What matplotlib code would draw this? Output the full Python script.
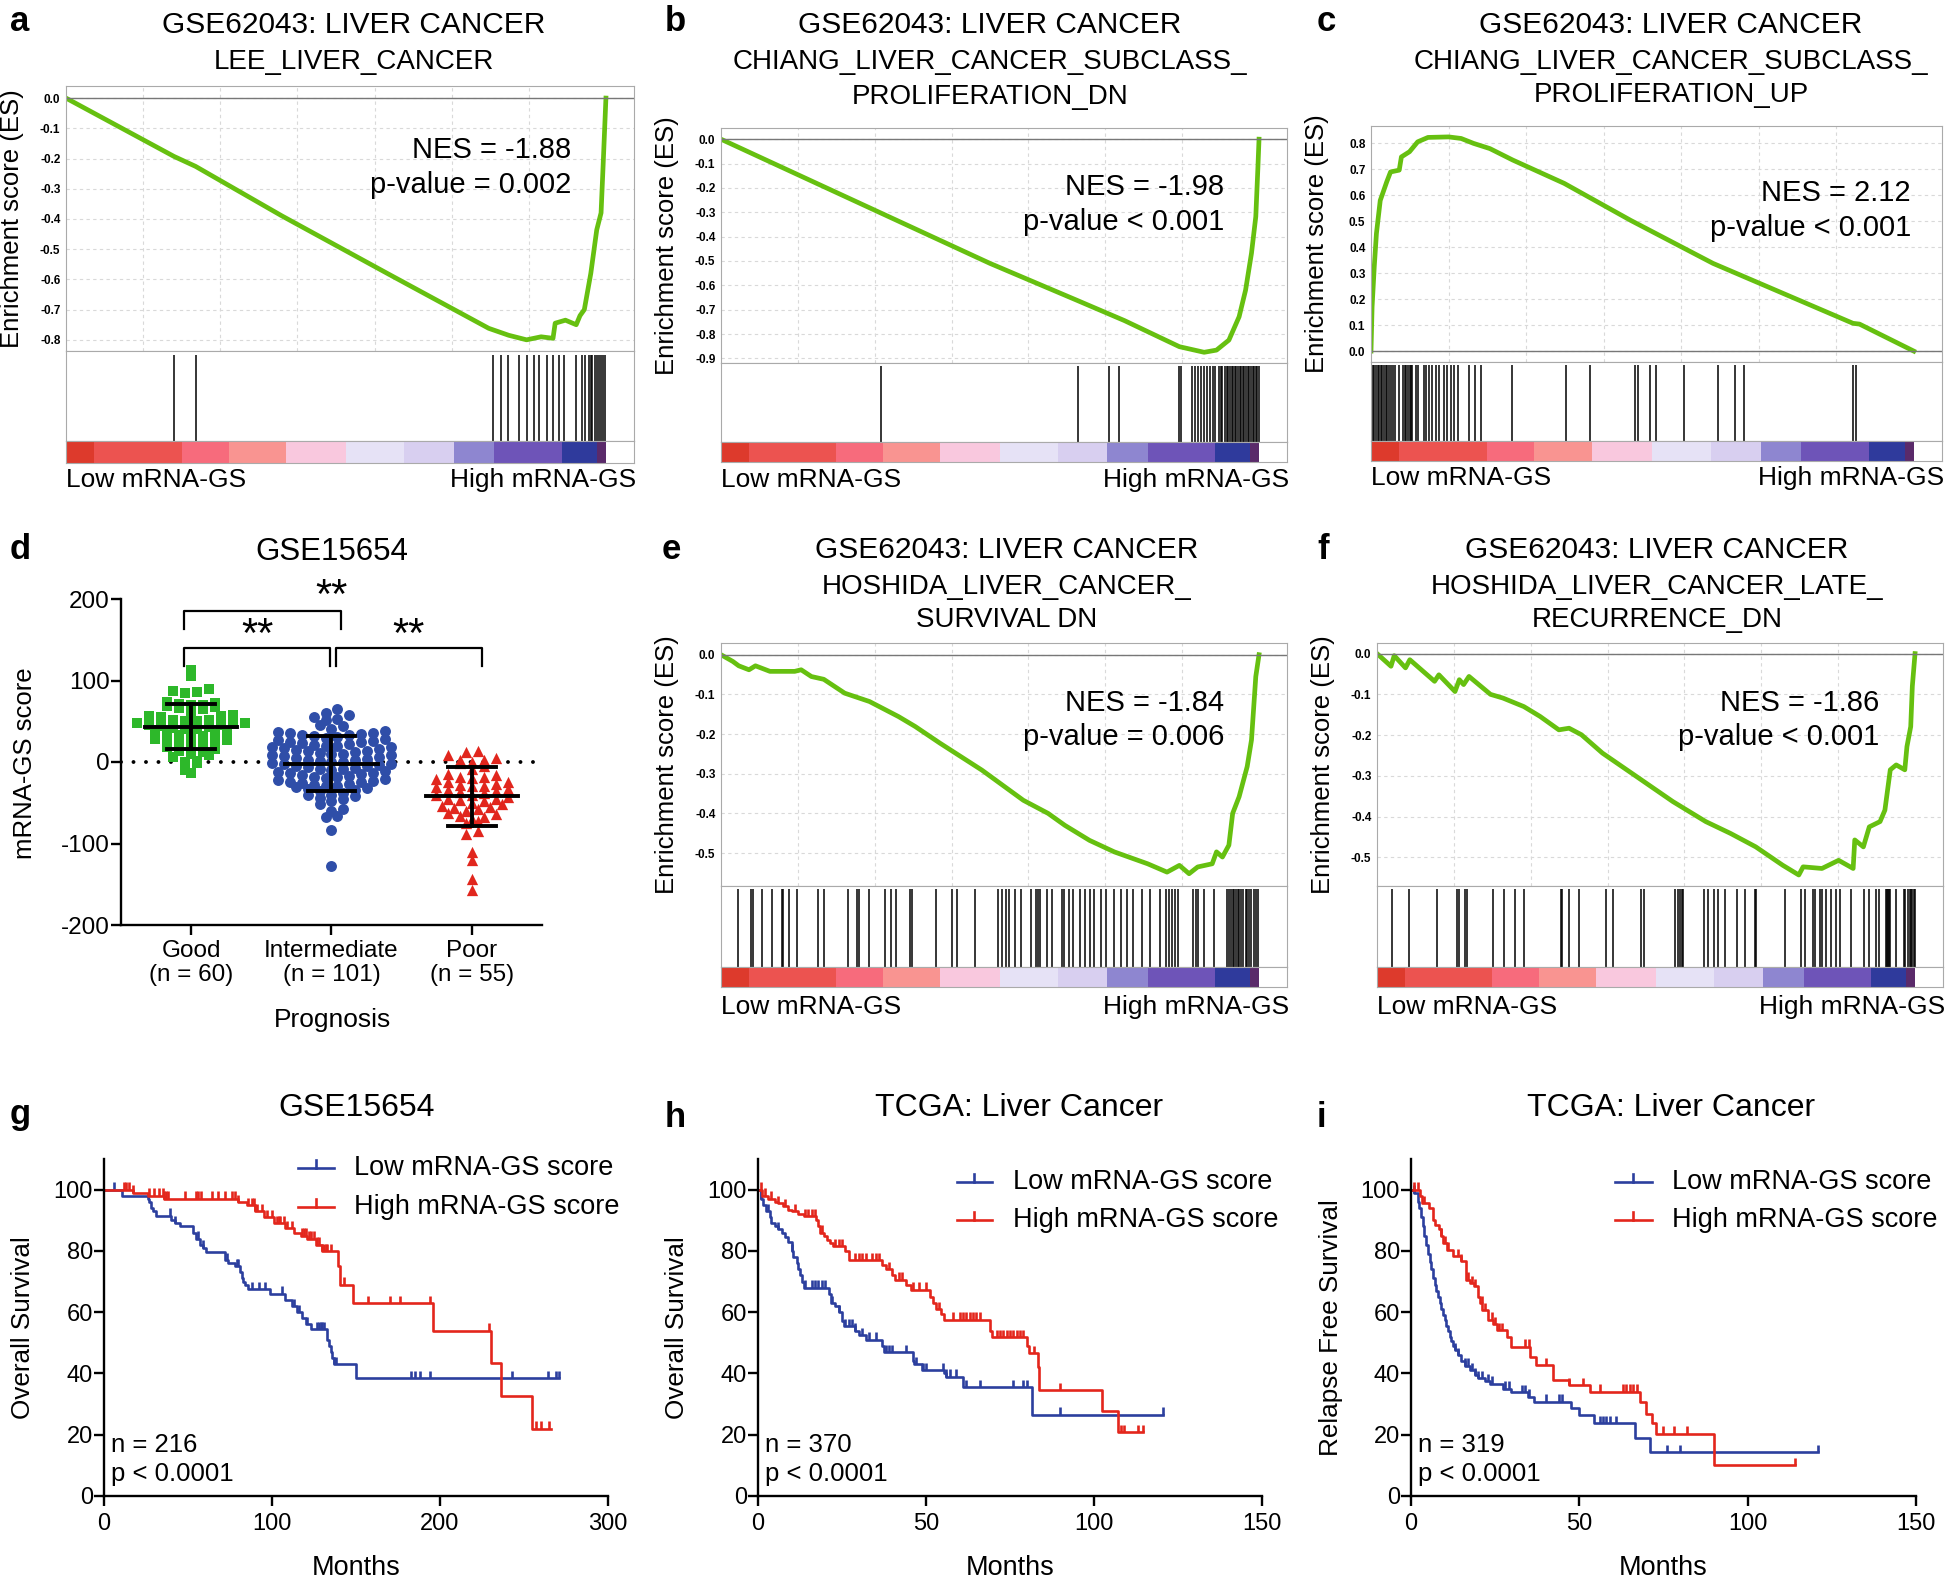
import numpy as np
import matplotlib
matplotlib.use('Agg')
import matplotlib.pyplot as plt
from matplotlib.lines import Line2D

plt.rcParams['font.family'] = ['Liberation Sans', 'DejaVu Sans']
plt.rcParams['axes.unicode_minus'] = False

# ---------------- GSEA data (x = position in ranked gene list, %) ----------------
a_x = [0, 20.0, 24.0, 40, 60, 78.3, 82, 85.3, 88, 90.2, 90.6, 92.5, 94.5, 95.2, 96.0, 97.2, 98.3, 99.1, 99.5, 100]
a_es = [0, -0.193, -0.226, -0.39, -0.585, -0.762, -0.785, -0.80, -0.79, -0.795, -0.745, -0.735, -0.75, -0.72, -0.70, -0.58, -0.436, -0.38, -0.215, 0]
a_hits = [20.0, 24.0, 79.0, 80.6, 81.8, 83.9, 85.4, 86.6, 87.6, 89.1, 90.2, 91.4, 92.3, 94.5, 95.6, 96.2, 96.8,
          97.2, 97.5, 97.9, 98.3, 98.7, 99.1, 99.5, 99.8]

b_x = [0, 29.8, 50, 66.0, 75, 85.2, 89.8, 92.1, 94.4, 96.3, 97.5, 98.6, 99.4, 99.8, 100]
b_es = [0, -0.304, -0.51, -0.66, -0.745, -0.852, -0.875, -0.866, -0.825, -0.729, -0.62, -0.468, -0.318, -0.112, 0]
b_hits = [29.8, 66.3, 72.1, 74.0, 85.2, 85.5, 87.6, 88.1, 88.6, 89.2, 89.8, 90.4, 90.9, 91.5, 91.9, 92.5, 92.9,
          93.2, 93.6, 94.0, 94.3, 94.6, 94.9, 95.2, 95.5, 95.8, 96.1, 96.4, 96.7, 97.0, 97.3, 97.6, 97.9, 98.2,
          98.5, 98.8, 99.1, 99.4, 99.7, 100.0]

c_x = [0, 0.2, 0.6, 1.0, 1.7, 2.9, 3.6, 5.2, 5.6, 7.1, 8.6, 10.5, 14.3, 16.6, 18.9, 21.9, 26.1, 35.6, 47.8, 63.0, 88.8, 90.0, 100]
c_es = [0, 0.17, 0.325, 0.453, 0.58, 0.652, 0.69, 0.697, 0.748, 0.768, 0.806, 0.823, 0.825, 0.819, 0.80, 0.78, 0.736,
        0.646, 0.504, 0.338, 0.107, 0.104, 0]
c_hits = [0.0, 0.3, 0.6, 0.9, 1.2, 1.5, 1.8, 2.1, 2.4, 2.7, 3.0, 3.3, 3.6, 4.0, 4.5, 5.2, 5.9, 6.2, 6.5, 6.8, 7.1,
          7.4, 7.6, 8.2, 8.7, 9.7, 10.1, 10.6, 11.3, 12.0, 12.6, 13.4, 14.0, 14.8, 15.2, 16.0, 18.1, 19.2, 20.2,
          25.9, 36.0, 40.4, 48.7, 49.2, 51.4, 52.5, 57.6, 63.9, 67.1, 68.8, 88.8, 89.4]

e_x = [0, 2.2, 3.3, 5.2, 6.4, 9.1, 13.7, 14.9, 16.8, 19.1, 23.0, 27.6, 33.0, 36.1, 40.7, 48.5, 56.2, 60.8, 63.9,
       68.5, 73.1, 79.3, 82.9, 85.2, 87.0, 88.6, 91.3, 92.1, 93.2, 94.4, 95.1, 96.3, 97.8, 98.6, 99.4, 100]
e_es = [0, -0.017, -0.028, -0.038, -0.028, -0.042, -0.042, -0.038, -0.055, -0.062, -0.097, -0.118, -0.156, -0.181,
        -0.223, -0.291, -0.367, -0.40, -0.43, -0.468, -0.497, -0.527, -0.548, -0.531, -0.552, -0.535, -0.527,
        -0.497, -0.51, -0.48, -0.40, -0.358, -0.282, -0.215, -0.055, 0]
e_hits = [3.2, 5.6, 6.0, 7.7, 9.5, 11.3, 11.6, 12.6, 14.1, 18.0, 19.1, 23.6, 25.3, 25.7, 27.5, 30.5, 31.6, 32.6,
          35.2, 35.5, 40.0, 42.9, 43.8, 47.3, 51.4, 52.3, 52.9, 53.5, 54.6, 55.8, 57.7, 58.5, 58.9, 59.3, 60.6,
          61.6, 63.3, 63.7, 64.7, 65.4, 66.8, 67.7, 68.5, 69.4, 70.7, 71.6, 73.1, 74.3, 75.5, 76.6, 78.2, 79.7,
          81.6, 82.8, 83.2, 83.8, 84.3, 84.9, 87.8, 88.2, 88.7, 89.7, 91.7, 94.0, 94.4, 94.8, 95.1, 95.4, 95.7,
          96.0, 96.3, 96.7, 97.1, 97.5, 97.8, 98.2, 98.6, 99.0, 99.4, 99.8]

f_x = [0, 2.6, 3.2, 5.3, 6.1, 10.7, 11.5, 14.5, 15.3, 16.1, 17.1, 21.1, 23.4, 27.3, 30.3, 33.8, 35.7, 38.0, 41.9,
       47.3, 55.0, 61.1, 65.7, 70.4, 75.4, 78.4, 79.2, 82.7, 85.8, 88.5, 88.8, 90.4, 91.5, 93.5, 94.4, 95.4, 96.5,
       98.1, 98.5, 99.2, 99.5, 100]
f_es = [0, -0.031, -0.005, -0.035, -0.015, -0.068, -0.052, -0.093, -0.064, -0.076, -0.056, -0.10, -0.109, -0.13,
        -0.154, -0.187, -0.183, -0.199, -0.244, -0.293, -0.363, -0.412, -0.441, -0.474, -0.519, -0.543, -0.523,
        -0.527, -0.507, -0.527, -0.457, -0.474, -0.425, -0.412, -0.384, -0.285, -0.273, -0.285, -0.228, -0.179,
        -0.08, 0]
f_hits = [2.8, 5.9, 11.1, 14.9, 15.2, 16.3, 16.7, 21.5, 23.6, 25.7, 27.3, 34.2, 34.3, 35.6, 37.5, 42.6, 43.8, 49.0,
          49.7, 55.3, 55.9, 56.4, 56.7, 56.9, 60.7, 61.5, 62.7, 63.4, 64.6, 66.9, 68.4, 70.2, 70.4, 75.9, 78.8,
          79.6, 81.0, 81.5, 82.3, 82.8, 83.4, 84.4, 85.4, 86.1, 88.1, 90.5, 91.5, 92.7, 93.3, 94.6, 94.8, 95.0,
          95.1, 95.4, 96.4, 97.9, 98.2, 98.7, 99.0, 99.2, 99.5, 99.8, 100.0]

# ranked list colour bar
bar_edges = [0, 5.2, 21.4, 30.1, 40.7, 51.8, 62.6, 71.8, 79.3, 91.8, 98.3, 100]
bar_colors = ['#dd3a2c', '#ec5350', '#f76b7c', '#f99491', '#f9c8de', '#e6e2f6', '#d8cff0',
              '#8e86d0', '#6e54b8', '#2f3a9c', '#5a2a6a']

# ---------------- scatter (panel d) ----------------
good = [113, 105, 89, 87, 86, 85, 74, 72, 70, 69, 71, 70, 68, 66, 65, 60, 58, 57, 56, 55,
        52, 51, 50, 48, 47, 50, 48, 46, 45, 44, 43, 42, 41, 40, 39, 37, 35, 34, 33, 32,
        30, 28, 27, 26, 25, 23, 22, 20, 18, 16, 14, 12, 10, 8, 6, 1, 0, -1, -10, -14]
inter = [65, 60, 58, 55, 53, 52, 45, 44, 40,
         38, 37, 36, 35, 34, 33, 33, 32, 31, 30, 28,
         27, 26, 25, 24, 23, 22, 21, 20, 20, 19, 18, 17, 16, 15, 14,
         13, 12, 11, 10, 10, 9, 8, 7, 6, 5, 4, 3,
         2, 1, 0, 0, -1, -2, -3, -4, -5, -5, -6, -7, -8, -9,
         -10, -11, -12, -13, -14, -15, -16, -17, -18,
         -19, -20, -21, -22, -23, -24, -25, -26, -27, -28,
         -29, -30, -31, -32, -33, -34, -35,
         -38, -40, -41, -42, -44, -46, -48,
         -52, -58, -60, -66, -68, -83, -128]
poor = [13, 12, 8, 5, 3, 2, 0, -1, -5, -8,
        -15, -16, -18, -19, -20, -21, -24, -25,
        -27, -28, -30, -31, -33, -34, -35, -37,
        -38, -40, -41, -43, -45, -46, -47, -48, -50,
        -52, -54, -55, -57, -58, -60, -62,
        -64, -66, -68, -70, -72, -75,
        -85, -88, -110, -120, -143, -157, -30]
groups = ['Good\n(n = 60)', 'Intermediate\n(n = 101)', 'Poor\n(n = 55)']

# ---------------- Kaplan-Meier step data ----------------
g_low_t = [0, 11, 26, 27, 28, 29, 31, 40, 42, 45, 53, 55, 57, 59, 61, 72, 74, 78, 81, 82, 83, 84, 86, 99, 108,
           112, 115, 118, 120, 123, 133, 134, 135, 136, 137, 150]
g_low_s = [100, 98, 97, 96, 94, 93, 91.5, 90, 89, 88, 86, 84, 82, 81, 79.5, 77, 76, 75, 73, 71, 70, 69, 67.5, 66,
           64, 62, 60, 58, 56, 54.5, 51, 49, 47, 45, 43, 38.5]
g_low_cens = [6, 39, 42, 56, 59, 73, 79, 80, 88, 92, 96, 106, 113, 116, 121, 127, 128, 129, 130, 131, 137, 138,
              183, 185, 188, 194, 243, 264, 269, 271]
g_low_end = 271
g_high_t = [0, 17, 26, 36, 80, 85, 90, 95, 101, 108, 113, 117, 121, 126, 130, 139, 140.5, 148, 196, 230.5, 236.6,
            254.6]
g_high_s = [100, 99, 98, 97, 96, 95, 93, 91, 89, 87.5, 86, 85, 84, 82, 80, 75, 69, 63, 54, 43.5, 32.5, 22]
g_high_cens = [12, 13, 15, 17, 27, 30, 33, 35, 36, 37, 38, 48, 55, 56, 58, 64, 68, 72, 76, 78, 80, 86, 88, 89, 90,
               91, 94, 97, 100, 103, 104, 105, 107, 109, 112, 118, 119, 120, 122, 123, 125, 127, 128, 130, 131,
               132, 133, 135, 143, 157, 170, 176, 194, 229, 257, 260, 265]
g_high_end = 266

h_low_t = [0, 1.0, 1.5, 2.5, 3.5, 4.0, 5.0, 6.0, 7.0, 8.0, 9.0, 10.0, 10.5, 11.5, 12.0, 12.5, 13.0, 13.6, 21.0,
           21.6, 23.0, 24.0, 25.0, 25.5, 29.0, 30.0, 32.0, 37.0, 37.6, 46.0, 46.5, 48.7, 55.5, 56.0, 61.0, 81.5]
h_low_s = [100, 97, 95, 93, 91, 89, 88, 87, 86, 84.5, 83, 80, 78, 76, 74, 72, 70, 68, 66, 63, 62, 60, 57, 55.5, 54,
           52.5, 51, 49, 47, 44, 43, 41, 40, 39, 35.5, 26.5]
h_low_cens = [1, 3, 6, 10, 14, 16, 17, 18, 19, 20, 22, 24, 26, 27, 28, 29, 31, 33, 35, 38, 39, 40, 44, 47, 49, 50,
              55, 56, 57, 59, 62, 66, 76, 79, 80, 90, 120.6]
h_low_end = 120.6
h_high_t = [0, 1.2, 3.0, 5.0, 6.0, 7.4, 9.0, 10.0, 12.0, 13.6, 17.3, 18.0, 18.5, 19.5, 20.4, 21.3, 22.2, 26.0, 27.0,
            37.0, 38.2, 40.0, 40.7, 44.0, 45.6, 51.2, 52.0, 53.0, 54.5, 55.5, 69.0, 69.7, 80.2, 80.8, 83.3, 83.6,
            102.4, 107.0]
h_high_s = [100, 98, 97, 96, 95.5, 94.5, 93.5, 93, 92, 91.3, 90, 88, 86, 85, 83.6, 82.5, 81.5, 80, 77, 75.5, 74,
            72, 70.6, 69, 67.3, 65, 63, 61, 59.5, 57.5, 54, 51.8, 49, 46.6, 42.2, 34.6, 27.7, 20.9]
h_high_cens = [1, 2, 4, 6, 8, 11, 14, 15, 16, 17, 19, 23, 24, 25, 29, 30, 31, 32, 34, 35, 36, 39, 42, 43, 46, 48,
               50, 54, 58, 60, 61, 62, 63, 64, 65, 66, 71, 72, 73, 74, 75, 76, 77, 78, 79, 82, 90, 108, 109, 113,
               114.5]
h_high_end = 114.5

i_low_t = [0, 1.0, 2.0, 2.5, 3.0, 3.5, 4.0, 4.5, 5.0, 5.5, 6.0, 6.5, 7.0, 7.5, 8.0, 8.5, 9.0, 9.5, 10.0, 10.5, 11.0,
           11.5, 12.0, 12.5, 13.0, 14.0, 15.0, 16.0, 17.5, 19.0, 20.0, 22.0, 23.6, 27.3, 29.8, 34.7, 36.5, 47.6,
           50.0, 54.4, 66.4, 71.0]
i_low_s = [100, 99, 96, 94, 91, 88, 85, 82, 79, 76.5, 74, 71, 69, 67, 65, 63, 61, 59, 57.5, 55.5, 54, 52, 50.5, 49,
           47.5, 46, 44, 42.5, 41, 39.5, 38.4, 37.5, 36.7, 35, 33.8, 32.4, 30.8, 28.6, 26.4, 23.7, 19, 14.4]
i_low_cens = [1, 13, 14, 16, 17, 18, 19, 20, 21, 23, 24, 28, 29, 33, 34, 35, 40, 44, 45, 56, 57, 58, 59, 61, 76, 80,
              120.8]
i_low_end = 120.8
i_high_t = [0, 2.7, 3.3, 5.2, 6.4, 7.0, 8.2, 9.0, 9.5, 10.7, 12.6, 15.0, 16.2, 17.5, 18.7, 19.9, 20.5, 21.2, 23.0,
            24.5, 25.5, 28.5, 29.8, 35.3, 37.2, 42.1, 47.0, 53.2, 67.9, 69.8, 71.6, 72.8, 90.1]
i_high_s = [100, 98, 95.6, 94, 90.2, 88.5, 87, 85, 82.5, 80.4, 78.2, 76.6, 70.6, 69.5, 68.4, 65, 63, 60.7, 57.5, 56,
            54.2, 52, 48.7, 45.5, 42.7, 37.8, 36.2, 34, 30.8, 26.9, 23.7, 20.4, 10]
i_high_cens = [1, 2, 4, 9, 10, 11, 14, 15, 17, 18, 19, 21, 22, 24, 25, 26, 27, 34, 35, 40, 47, 51, 56, 63, 64, 65,
               66, 67, 75, 78, 82, 114]
i_high_end = 114

GREEN = '#66c010'
BLUE = '#2c3f9e'
RED = '#e3261c'

W, H = 1949, 1585
fig = plt.figure(figsize=(W / 100, H / 100), dpi=100)


def box(l, t, r, b):
    return fig.add_axes([l / W, 1 - b / H, (r - l) / W, (b - t) / H])


def ftext(x, y, s, **kw):
    fig.text(x / W, 1 - y / H, s, **kw)


def gsea(es_box, hit_bottom, bar_bottom, x, es, hits, yticks, ylim, ypos_lbl):
    l, t, r, b = es_box
    ax = box(l, t, r, b)
    ax.plot(x, es, color=GREEN, lw=3.4, solid_joinstyle='round')
    ax.axhline(0, color='#777777', lw=1)
    ax.set_xlim(0, 105.2)
    ax.set_ylim(*ylim)
    ax.set_xticks([100 / 7 * k for k in range(1, 7)])
    ax.set_xticklabels([])
    ax.set_yticks(yticks)
    ax.set_yticklabels(['%.1f' % v for v in yticks], fontsize=8.5, fontweight='bold')
    ax.tick_params(length=0, pad=4)
    ax.grid(True, ls=(0, (3, 3)), color='#d9d9d9', lw=0.8)
    for sp in ax.spines.values():
        sp.set_color('#aaaaaa')

    ah = box(l, b, r, hit_bottom)
    ah.vlines(hits, 0, 0.96, color='black', lw=1.1)
    ah.set_xlim(0, 105.2)
    ah.set_ylim(0, 1)
    ah.set_xticks([])
    ah.set_yticks([])
    for sp in ah.spines.values():
        sp.set_color('#aaaaaa')

    ab = box(l, hit_bottom, r, bar_bottom)
    for k in range(len(bar_colors)):
        ab.axvspan(bar_edges[k], bar_edges[k + 1], color=bar_colors[k], lw=0)
    ab.set_xlim(0, 105.2)
    ab.set_xticks([])
    ab.set_yticks([])
    for sp in ab.spines.values():
        sp.set_color('#aaaaaa')

    ftext(l - 54, (t + b) / 2, 'Enrichment score (ES)', rotation=90, ha='center', va='center', fontsize=18.5)
    ftext(l, ypos_lbl, 'Low mRNA-GS', ha='left', va='center', fontsize=19)
    ftext(r + 2, ypos_lbl, 'High mRNA-GS', ha='right', va='center', fontsize=19)
    return ax


def km_panel(l, r, xmax, xstep, curves):
    ax = box(l, 1159, r, 1496)
    for t, s, end, cens, col in curves:
        ax.step(list(t) + [end], list(s) + [s[-1]], where='post', color=col, lw=1.9)
        idx = np.searchsorted(t, cens, side='right') - 1
        cy = np.array(s)[idx]
        ax.vlines(cens, cy, cy + 2.4, color=col, lw=1.9)
    ax.set_xlim(0, xmax)
    ax.set_ylim(0, 110)
    ax.set_xticks(np.arange(0, xmax + 1, xstep))
    ax.set_yticks([0, 20, 40, 60, 80, 100])
    ax.spines['top'].set_visible(False)
    ax.spines['right'].set_visible(False)
    for sp in ['left', 'bottom']:
        ax.spines[sp].set_linewidth(1.7)
    ax.tick_params(direction='out', length=7, width=1.7, labelsize=17)
    ax.tick_params(axis='y', pad=1)
    ax.tick_params(axis='x', pad=5)
    ftext((l + r) / 2, 1568, 'Months', ha='center', va='center', fontsize=19.5)
    return ax


def legend_row(x0, x1, y, col, label, tx):
    fig.add_artist(Line2D([x0 / W, x1 / W], [1 - y / H, 1 - y / H], color=col, lw=1.9))
    xm = (x0 + x1) / 2
    fig.add_artist(Line2D([xm / W, xm / W], [1 - y / H, 1 - (y - 8) / H], color=col, lw=1.9))
    ftext(tx, y, label, ha='left', va='center', fontsize=19.5)


# ---------------- row 1 ----------------
gsea((66, 86, 634, 351), 441, 463, a_x, a_es, a_hits, [0.0, -0.1, -0.2, -0.3, -0.4, -0.5, -0.6, -0.7, -0.8],
     (-0.837, 0.04), 480)
ftext(354, 25, 'GSE62043: LIVER CANCER', ha='center', va='center', fontsize=21.5)
ftext(354, 62, 'LEE_LIVER_CANCER', ha='center', va='center', fontsize=20)
ftext(571, 150, 'NES = -1.88', ha='right', va='center', fontsize=21)
ftext(571, 185, 'p-value = 0.002', ha='right', va='center', fontsize=21)

gsea((721, 128, 1287, 363), 442, 462, b_x, b_es, b_hits,
     [0.0, -0.1, -0.2, -0.3, -0.4, -0.5, -0.6, -0.7, -0.8, -0.9], (-0.919, 0.046), 480)
ftext(990, 25, 'GSE62043: LIVER CANCER', ha='center', va='center', fontsize=21.5)
ftext(990, 62, 'CHIANG_LIVER_CANCER_SUBCLASS_', ha='center', va='center', fontsize=20)
ftext(990, 97, 'PROLIFERATION_DN', ha='center', va='center', fontsize=20)
ftext(1224, 187, 'NES = -1.98', ha='right', va='center', fontsize=21)
ftext(1224, 222, 'p-value < 0.001', ha='right', va='center', fontsize=21)

gsea((1371, 126, 1942, 362), 441, 461, c_x, c_es, c_hits,
     [0.0, 0.1, 0.2, 0.3, 0.4, 0.5, 0.6, 0.7, 0.8], (-0.042, 0.867), 478)
ftext(1671, 25, 'GSE62043: LIVER CANCER', ha='center', va='center', fontsize=21.5)
ftext(1671, 62, 'CHIANG_LIVER_CANCER_SUBCLASS_', ha='center', va='center', fontsize=20)
ftext(1671, 95, 'PROLIFERATION_UP', ha='center', va='center', fontsize=20)
ftext(1911, 193, 'NES = 2.12', ha='right', va='center', fontsize=21)
ftext(1911, 228, 'p-value < 0.001', ha='right', va='center', fontsize=21)

# ---------------- row 2 ----------------
gsea((721, 643, 1287, 886), 967, 987, e_x, e_es, e_hits, [0.0, -0.1, -0.2, -0.3, -0.4, -0.5],
     (-0.583, 0.0295), 1007)
ftext(1007, 550, 'GSE62043: LIVER CANCER', ha='center', va='center', fontsize=21.5)
ftext(1007, 587, 'HOSHIDA_LIVER_CANCER_', ha='center', va='center', fontsize=20)
ftext(1007, 620, 'SURVIVAL DN', ha='center', va='center', fontsize=20)
ftext(1224, 703, 'NES = -1.84', ha='right', va='center', fontsize=21)
ftext(1224, 737, 'p-value = 0.006', ha='right', va='center', fontsize=21)

gsea((1377, 643, 1943, 886), 967, 987, f_x, f_es, f_hits, [0.0, -0.1, -0.2, -0.3, -0.4, -0.5],
     (-0.57, 0.026), 1007)
ftext(1657, 550, 'GSE62043: LIVER CANCER', ha='center', va='center', fontsize=21.5)
ftext(1657, 587, 'HOSHIDA_LIVER_CANCER_LATE_', ha='center', va='center', fontsize=20)
ftext(1657, 620, 'RECURRENCE_DN', ha='center', va='center', fontsize=20)
ftext(1879, 703, 'NES = -1.86', ha='right', va='center', fontsize=21)
ftext(1879, 737, 'p-value < 0.001', ha='right', va='center', fontsize=21)


# panel d: scatter with mean +/- SD, points spread in rows like a dot plot
def swarm_x(vals, center, bw=10, dx=0.085):
    vals = np.asarray(vals, float)
    xs = np.zeros(len(vals))
    bins = np.floor(vals / bw)
    for bn in np.unique(bins):
        idx = np.where(bins == bn)[0]
        idx = idx[np.argsort(vals[idx])]
        offs = np.array([((k + 1) // 2) * dx * (1 if k % 2 else -1) for k in range(len(idx))])
        offs = offs - offs.mean() if len(idx) % 2 == 0 else offs
        xs[idx] = center + offs
    return xs


ax = box(121, 599, 542, 925)
for k, (vals, col, mk, sz) in enumerate([(good, '#2db82a', 's', 52), (inter, '#2f4ea8', 'o', 62),
                                         (poor, '#e1261d', '^', 66)]):
    ax.scatter(swarm_x(vals, k), vals, color=col, marker=mk, s=sz, lw=0, zorder=2)
    m = np.mean(vals)
    sd = np.std(vals, ddof=1)
    ax.plot([k - 0.33, k + 0.33], [m, m], color='black', lw=2.8, zorder=3)
    ax.plot([k, k], [m - sd, m + sd], color='black', lw=2.8, zorder=3)
    for yy in (m - sd, m + sd):
        ax.plot([k - 0.17, k + 0.17], [yy, yy], color='black', lw=2.8, zorder=3)
ax.axhline(0, color='black', lw=2.8, ls=(0, (0.01, 3.2)), dash_capstyle='round', zorder=1)
ax.plot([-0.05, -0.05, 1.07, 1.07], [163, 185, 185, 163], color='black', lw=1.6)
ax.plot([-0.05, -0.05, 0.99, 0.99], [118, 140, 140, 118], color='black', lw=1.6)
ax.plot([1.03, 1.03, 2.07, 2.07], [118, 140, 140, 118], color='black', lw=1.6)
ax.text(1.0, 202, '**', ha='center', va='center', fontsize=30)
ax.text(0.47, 155, '**', ha='center', va='center', fontsize=30)
ax.text(1.55, 155, '**', ha='center', va='center', fontsize=30)
ax.set_xlim(-0.5, 2.5)
ax.set_ylim(-200, 200)
ax.set_yticks([-200, -100, 0, 100, 200])
ax.set_xticks([0, 1, 2])
ax.set_xticklabels(groups, linespacing=1.1)
ax.spines['top'].set_visible(False)
ax.spines['right'].set_visible(False)
for sp in ['left', 'bottom']:
    ax.spines[sp].set_linewidth(1.7)
ax.tick_params(direction='out', length=7, width=1.7, labelsize=17.5)
ax.tick_params(axis='y', pad=1)
ax.tick_params(axis='x', pad=4)
ftext(332, 552, 'GSE15654', ha='center', va='center', fontsize=22.5)
ftext(25, 763, 'mRNA-GS score', rotation=90, ha='center', va='center', fontsize=18.5)
ftext(332, 1020, 'Prognosis', ha='center', va='center', fontsize=19)

# ---------------- row 3: survival ----------------
km_panel(104, 608, 300, 100, [(g_low_t, g_low_s, g_low_end, g_low_cens, BLUE),
                              (g_high_t, g_high_s, g_high_end, g_high_cens, RED)])
ftext(357, 1108, 'GSE15654', ha='center', va='center', fontsize=23)
ftext(23, 1328, 'Overall Survival', rotation=90, ha='center', va='center', fontsize=18.8)
legend_row(298, 334, 1168, BLUE, 'Low mRNA-GS score', 354)
legend_row(298, 334, 1207, RED, 'High mRNA-GS score', 354)
ftext(111, 1445, 'n = 216', ha='left', va='center', fontsize=18.5)
ftext(111, 1474, 'p < 0.0001', ha='left', va='center', fontsize=18.5)

km_panel(758, 1262, 150, 50, [(h_low_t, h_low_s, h_low_end, h_low_cens, BLUE),
                              (h_high_t, h_high_s, h_high_end, h_high_cens, RED)])
ftext(1019, 1108, 'TCGA: Liver Cancer', ha='center', va='center', fontsize=23)
ftext(677, 1328, 'Overall Survival', rotation=90, ha='center', va='center', fontsize=18.8)
legend_row(957, 992, 1182, BLUE, 'Low mRNA-GS score', 1013)
legend_row(957, 992, 1220, RED, 'High mRNA-GS score', 1013)
ftext(765, 1445, 'n = 370', ha='left', va='center', fontsize=18.5)
ftext(765, 1474, 'p < 0.0001', ha='left', va='center', fontsize=18.5)

km_panel(1411, 1916, 150, 50, [(i_low_t, i_low_s, i_low_end, i_low_cens, BLUE),
                               (i_high_t, i_high_s, i_high_end, i_high_cens, RED)])
ftext(1671, 1108, 'TCGA: Liver Cancer', ha='center', va='center', fontsize=23)
ftext(1331, 1328, 'Relapse Free Survival', rotation=90, ha='center', va='center', fontsize=18.8)
legend_row(1615, 1652, 1182, BLUE, 'Low mRNA-GS score', 1672)
legend_row(1615, 1652, 1220, RED, 'High mRNA-GS score', 1672)
ftext(1418, 1445, 'n = 319', ha='left', va='center', fontsize=18.5)
ftext(1418, 1474, 'p < 0.0001', ha='left', va='center', fontsize=18.5)

# panel letters
for letter, x, y in [('a', 10, 31), ('b', 665, 31), ('c', 1317, 31), ('d', 10, 559), ('e', 662, 559),
                     ('f', 1317, 559), ('g', 10, 1124), ('h', 665, 1127), ('i', 1317, 1127)]:
    ftext(x, y, letter, ha='left', va='baseline', fontsize=25, fontweight='bold')

fig.savefig('out.png', dpi=100)
